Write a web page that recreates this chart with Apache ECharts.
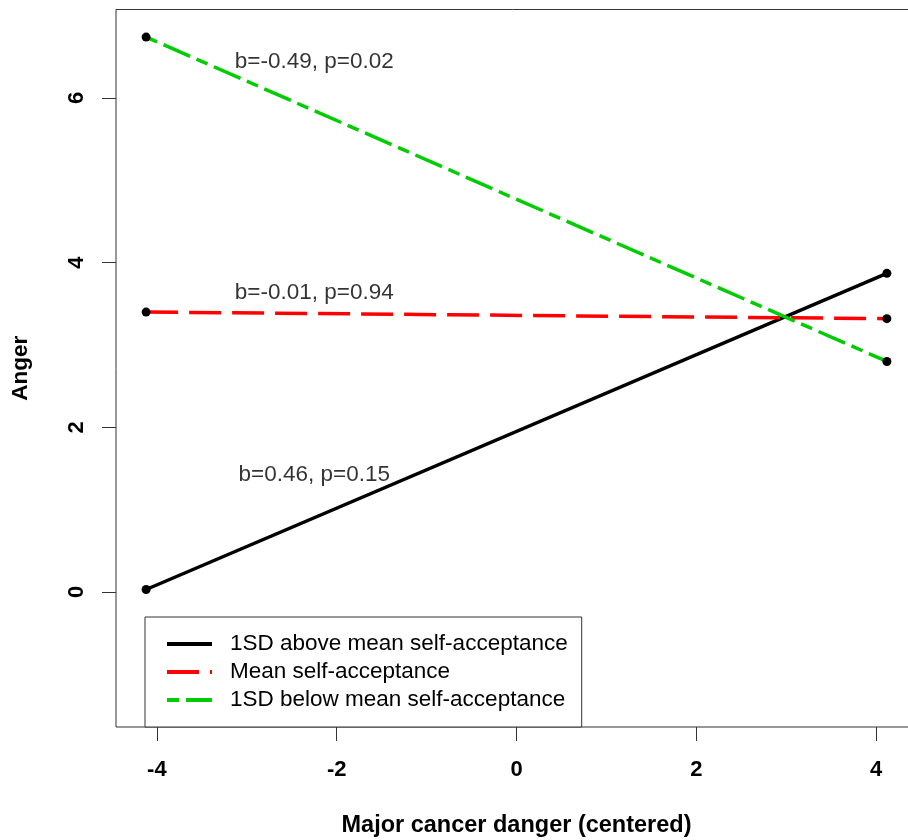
<!DOCTYPE html>
<html><head><meta charset="utf-8">
<script src="https://cdn.jsdelivr.net/npm/echarts@6/dist/echarts.min.js"></script>
<style>html,body{margin:0;padding:0;background:#fff}#c{width:908px;height:840px}</style>
</head><body><div id="c"></div>
<script>
const xEnds = [-4.12, 4.12];
const aboveMean = [0.03, 3.87];
const meanSA = [3.40, 3.32];
const belowMean = [6.74, 2.80];
const seriesNames = ['1SD above mean self-acceptance', 'Mean self-acceptance', '1SD below mean self-acceptance'];
const xTicks = [-4, -2, 0, 2, 4];
const yTicks = [0, 2, 4, 6];
const annX = [-2.25, -2.25, -2.25];
const annY = [6.44, 3.64, 1.42];
const annText = ['b=-0.49, p=0.02', 'b=-0.01, p=0.94', 'b=0.46, p=0.15'];

const FONT = 'Liberation Sans, Arial, sans-serif';
const allY = [aboveMean, meanSA, belowMean];
const colors = ['#000000', '#FF0000', '#00CD00'];
const dashes = ['solid', [32, 11], [12, 7, 29, 7]];

const lineSeries = allY.map((ys, k) => ({
  name: seriesNames[k],
  type: 'line',
  data: xEnds.map((x, i) => [x, ys[i]]),
  symbol: 'none',
  lineStyle: { color: colors[k], width: 3.5, type: dashes[k], cap: 'butt' },
  itemStyle: { color: colors[k] },
  z: 2 + k,
  silent: true,
  animation: false
}));

const pointSeries = {
  type: 'scatter',
  data: allY.flatMap(ys => xEnds.map((x, i) => [x, ys[i]])),
  symbol: 'circle',
  symbolSize: 9,
  itemStyle: { color: '#000', opacity: 1 },
  z: 10,
  silent: true,
  animation: false
};

const annSeries = {
  type: 'scatter',
  data: annX.map((x, i) => ({ value: [x, annY[i]], label: { formatter: annText[i] } })),
  symbolSize: 1,
  itemStyle: { color: 'rgba(0,0,0,0)' },
  label: { show: true, position: 'inside', color: '#000', fontSize: 22.5, fontFamily: FONT },
  z: 11,
  silent: true,
  animation: false
};

const chart = echarts.init(document.getElementById('c'), null, { renderer: 'canvas' });
chart.setOption({
  animation: false,
  backgroundColor: '#fff',
  grid: { left: 116, top: 9.5, width: 801, height: 717.5, show: true, borderColor: '#333', borderWidth: 1, containLabel: false, outerBoundsMode: 'none' },
  xAxis: {
    type: 'value', min: -4.455, max: 4.455,
    axisLine: { show: false, onZero: false },
    splitLine: { show: false },
    axisTick: { show: true, inside: false, length: 14, lineStyle: { color: '#333', width: 1 }, customValues: xTicks },
    axisLabel: { customValues: xTicks, margin: 32, fontSize: 22, fontWeight: 'bold', fontFamily: FONT, color: '#000' },
    name: 'Major cancer danger (centered)', nameLocation: 'middle', nameGap: 87,
    nameTextStyle: { fontSize: 23.5, fontWeight: 'bold', fontFamily: FONT, color: '#000' }
  },
  yAxis: {
    type: 'value', min: -1.64, max: 7.075,
    axisLine: { show: false, onZero: false },
    splitLine: { show: false },
    axisTick: { show: true, inside: false, length: 14, lineStyle: { color: '#333', width: 1 }, customValues: yTicks },
    axisLabel: { customValues: yTicks, rotate: 90, margin: 28, fontSize: 22, fontWeight: 'bold', fontFamily: FONT, color: '#000' },
    name: 'Anger', nameLocation: 'middle', nameGap: 84, nameRotate: 90,
    nameTextStyle: { fontSize: 22.5, fontWeight: 'bold', fontFamily: FONT, color: '#000' }
  },
  legend: {
    orient: 'vertical', left: 145, top: 617,
    data: seriesNames,
    itemWidth: 45, itemHeight: 14, itemGap: 4,
    padding: [15, 14, 15, 20],
    borderColor: '#333', borderWidth: 1, borderRadius: 0, backgroundColor: '#fff',
    selectedMode: false,
    itemStyle: { opacity: 0 },
    lineStyle: { width: 4 },
    textStyle: { fontSize: 22.5, fontFamily: FONT, color: '#000', lineHeight: 24, padding: [0, 0, 0, 13] }
  },
  series: [...lineSeries, pointSeries, annSeries]
});
</script></body></html>
